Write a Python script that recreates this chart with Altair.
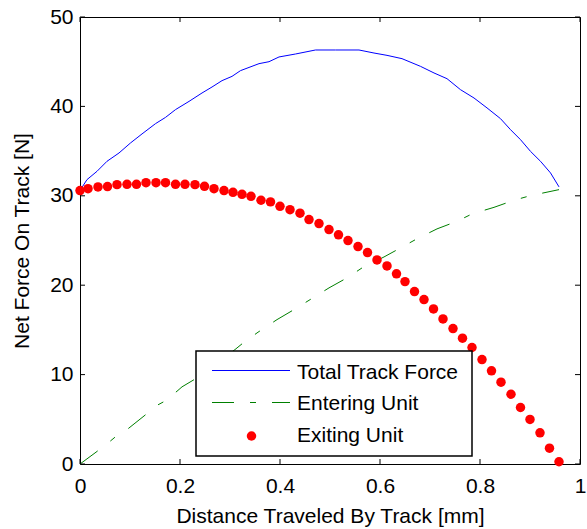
import altair as alt
import pandas as pd

# ---- data ----
x_total = [0.0, 0.014, 0.034, 0.054, 0.078, 0.101, 0.124, 0.151, 0.171, 0.191, 0.218, 0.244,
           0.264, 0.284, 0.304, 0.321, 0.338, 0.358, 0.378, 0.398, 0.431, 0.471, 0.511, 0.558,
           0.588, 0.614, 0.644, 0.681, 0.708, 0.734, 0.761, 0.788, 0.814, 0.841, 0.861, 0.881,
           0.901, 0.921, 0.941, 0.958]
y_total = [30.6, 31.81, 32.74, 33.86, 34.79, 35.91, 36.92, 38.07, 38.77, 39.64, 40.56, 41.50,
           42.17, 42.88, 43.36, 44.00, 44.36, 44.78, 45.00, 45.53, 45.86, 46.31, 46.31, 46.31,
           45.97, 45.71, 45.34, 44.48, 43.74, 43.10, 41.87, 40.94, 39.83, 38.63, 37.40, 36.28,
           34.97, 33.86, 32.56, 31.0]

x_enter = [0.0, 0.032, 0.058, 0.070, 0.096, 0.130, 0.156, 0.167, 0.194, 0.204, 0.231, 0.310,
           0.328, 0.356, 0.394, 0.428, 0.458, 0.498, 0.534, 0.564, 0.608, 0.641, 0.671, 0.714,
           0.754, 0.784, 0.828, 0.868, 0.901, 0.958]
y_enter = [0.0, 1.32, 2.44, 3.00, 3.94, 5.46, 6.62, 6.95, 8.14, 8.63, 9.53, 12.80,
           13.62, 14.74, 16.15, 17.27, 18.31, 19.70, 20.82, 21.93, 23.16, 24.17, 25.10, 26.30,
           27.15, 27.97, 28.71, 29.50, 30.02, 30.69]

x_exit = [0.0, 0.016, 0.036, 0.055, 0.074, 0.094, 0.113, 0.132, 0.152, 0.171, 0.191, 0.210,
          0.230, 0.249, 0.268, 0.288, 0.306, 0.324, 0.342, 0.362, 0.381, 0.400, 0.420, 0.440,
          0.458, 0.478, 0.498, 0.517, 0.536, 0.556, 0.575, 0.594, 0.614, 0.633, 0.650, 0.669,
          0.688, 0.707, 0.726, 0.746, 0.765, 0.784, 0.804, 0.823, 0.842, 0.862, 0.881, 0.900,
          0.920, 0.939, 0.958]
y_exit = [30.58, 30.80, 30.99, 31.03, 31.25, 31.28, 31.28, 31.47, 31.47, 31.47, 31.28, 31.28,
          31.25, 31.06, 30.80, 30.58, 30.39, 30.17, 29.94, 29.50, 29.32, 28.82, 28.45, 28.06,
          27.34, 26.89, 26.22, 25.63, 24.99, 24.32, 23.65, 22.83, 22.16, 21.27, 20.40, 19.29,
          18.39, 17.35, 16.23, 15.15, 14.07, 13.03, 11.68, 10.42, 9.15, 7.80, 6.32, 4.98,
          3.49, 1.77, 0.25]

x_ticks = [0, 0.2, 0.4, 0.6, 0.8, 1]
y_ticks = [0, 10, 20, 30, 40, 50]
legend_names = ["Total Track Force", "Entering Unit", "Exiting Unit"]
series_colors = ["#0000ff", "#008000", "#ff0000"]

x_title = "Distance Traveled By Track [mm]"
y_title = "Net Force On Track [N]"

# ---- chart ----
W, H = 500, 447
FONT = "Liberation Sans"
FS = 21
DASHDOT = [22, 16, 6, 16]

xs = alt.Scale(domain=[0, 1], nice=False, zero=False)
ys = alt.Scale(domain=[0, 50], nice=False, zero=False)

x_axis = alt.Axis(values=x_ticks, format="~g", title=x_title, ticks=False, domain=False,
                  grid=False, labelFlush=False, labelFont=FONT, titleFont=FONT,
                  labelFontSize=FS, titleFontSize=FS, labelColor="black", titleColor="black",
                  titleFontWeight="normal", labelPadding=11, titlePadding=9)
y_axis = alt.Axis(values=y_ticks, format="~g", title=y_title, ticks=False, domain=False,
                  grid=False, labelFlush=False, labelFont=FONT, titleFont=FONT,
                  labelFontSize=FS, titleFontSize=FS, labelColor="black", titleColor="black",
                  titleFontWeight="normal", labelPadding=7, titlePadding=17)

total = alt.Chart(pd.DataFrame({"x": x_total, "y": y_total})).mark_line(
    color=series_colors[0], strokeWidth=1).encode(
    x=alt.X("x:Q", scale=xs, axis=x_axis),
    y=alt.Y("y:Q", scale=ys, axis=y_axis))

enter = alt.Chart(pd.DataFrame({"x": x_enter, "y": y_enter})).mark_line(
    color=series_colors[1], strokeWidth=1, strokeDash=DASHDOT).encode(
    x=alt.X("x:Q", scale=xs), y=alt.Y("y:Q", scale=ys))

exiting = alt.Chart(pd.DataFrame({"x": x_exit, "y": y_exit})).mark_circle(
    color=series_colors[2], opacity=1, size=90).encode(
    x=alt.X("x:Q", scale=xs), y=alt.Y("y:Q", scale=ys))

# inward ticks on all four sides
xt = pd.DataFrame({"t": x_ticks})
yt = pd.DataFrame({"t": y_ticks})
tick_style = dict(color="black", strokeWidth=1)
xt_bot = alt.Chart(xt).mark_rule(**tick_style).encode(
    x=alt.X("t:Q", scale=xs), y=alt.value(H), y2=alt.value(H - 5))
xt_top = alt.Chart(xt).mark_rule(**tick_style).encode(
    x=alt.X("t:Q", scale=xs), y=alt.value(0), y2=alt.value(5))
yt_left = alt.Chart(yt).mark_rule(**tick_style).encode(
    y=alt.Y("t:Q", scale=ys), x=alt.value(0), x2=alt.value(5))
yt_right = alt.Chart(yt).mark_rule(**tick_style).encode(
    y=alt.Y("t:Q", scale=ys), x=alt.value(W), x2=alt.value(W - 5))

# legend box
one = pd.DataFrame({"a": [0]})
LX0, LX1, LY0, LY1 = 116, 392, 334, 439
box = alt.Chart(one).mark_rect(fill="white", stroke="black", strokeWidth=1.5).encode(
    x=alt.value(LX0), x2=alt.value(LX1), y=alt.value(LY0), y2=alt.value(LY1))
s_x0, s_x1, s_mid = 132, 210, 171.5
row_y = [353.5, 385.5, 419]
txt_y = [361.5, 392.5, 424.5]
leg_blue = alt.Chart(one).mark_rule(color=series_colors[0], strokeWidth=1).encode(
    x=alt.value(s_x0), x2=alt.value(s_x1), y=alt.value(row_y[0]))
leg_green = alt.Chart(one).mark_rule(color=series_colors[1], strokeWidth=1,
                                     strokeDash=DASHDOT).encode(
    x=alt.value(s_x0), x2=alt.value(s_x1), y=alt.value(row_y[1]))
leg_red = alt.Chart(one).mark_circle(color=series_colors[2], opacity=1, size=90).encode(
    x=alt.value(s_mid), y=alt.value(row_y[2]))
leg_text = [
    alt.Chart(one).mark_text(align="left", baseline="alphabetic", font=FONT, fontSize=FS,
                             color="black").encode(
        x=alt.value(217), y=alt.value(ty), text=alt.value(name))
    for name, ty in zip(legend_names, txt_y)
]

chart = alt.layer(
    total, enter, xt_bot, xt_top, yt_left, yt_right, exiting,
    box, leg_blue, leg_green, leg_red, *leg_text
).properties(
    width=W, height=H,
    autosize=alt.AutoSizeParams(type="none"),
    padding={"left": 80, "top": 17, "right": 7, "bottom": 65},
    background="white",
).configure_view(stroke="black", strokeWidth=1)

chart.save("out.html", embed_options={"renderer": "svg", "actions": False})
